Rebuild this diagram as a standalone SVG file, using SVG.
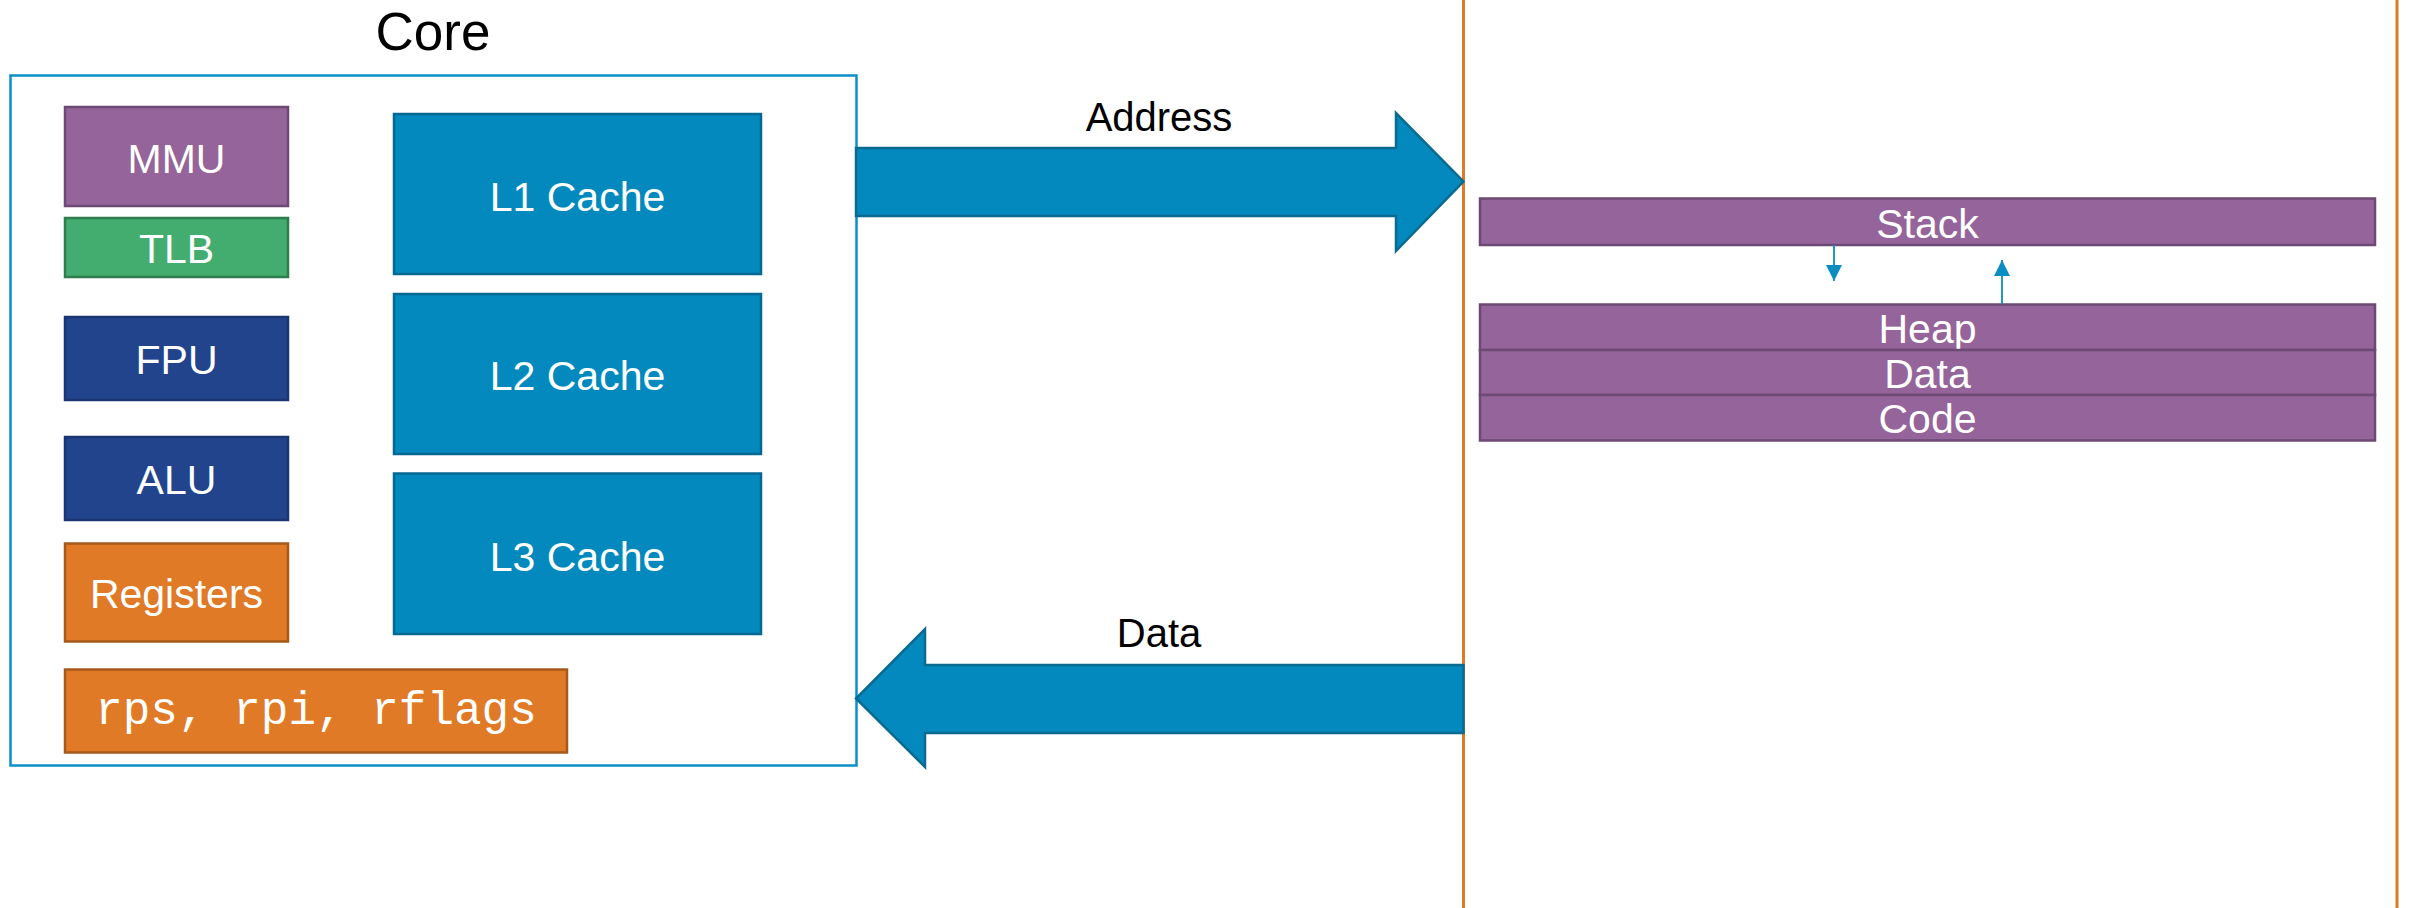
<svg xmlns="http://www.w3.org/2000/svg" width="2409" height="908" viewBox="0 0 2409 908">
<style>
.lbl{font-family:"Liberation Sans",Arial,sans-serif;fill:#ffffff;text-anchor:middle;font-size:41px}
.blk{font-family:"Liberation Sans",Arial,sans-serif;fill:#000000;text-anchor:middle}
.mono{font-family:"Liberation Mono","Courier New",monospace;fill:#ffffff;text-anchor:middle;font-size:46px}
.purple{fill:#95649A;stroke:#6D4A73;stroke-width:2.5}
.green{fill:#43AD6F;stroke:#2F7D4E;stroke-width:2.5}
.navy{fill:#21448D;stroke:#1A3570;stroke-width:2.5}
.cache{fill:#0389BD;stroke:#046892;stroke-width:2.5}
.orange{fill:#E07A26;stroke:#A55A1B;stroke-width:2.5}
.bigarrow{fill:#0389BD;stroke:#0B6A8F;stroke-width:2.5;stroke-linejoin:miter}
.sep{stroke:#E07A26;stroke-width:3;fill:none}
.thin{stroke:#0A8EC2;stroke-width:1.8;fill:none}
</style>
<defs>
<marker id="ah" viewBox="0 0 10 10" refX="10" refY="5" markerWidth="8" markerHeight="8" markerUnits="userSpaceOnUse" orient="auto">
<path d="M0,0 L10,5 L0,10 z" fill="#0A8EC2"/>
</marker>
<marker id="ahs" viewBox="0 0 16 16" refX="16" refY="8" markerWidth="16" markerHeight="16" markerUnits="userSpaceOnUse" orient="auto">
<path d="M0,0 L16,8 L0,16 z" fill="#0A8EC2"/>
</marker>
</defs>
<rect width="2409" height="908" fill="#ffffff"/>

<line class="sep" x1="1463.5" y1="0" x2="1463.5" y2="908"/>
<line class="sep" x1="2397" y1="0" x2="2397" y2="908"/>

<g id="core">
<text class="blk" x="433" y="50" font-size="53">Core</text>
<rect x="10.5" y="75.5" width="846" height="690" fill="#ffffff" stroke="#0B8FC6" stroke-width="2.5"/>
</g>

<g id="mmu"><rect class="purple" x="65" y="107" width="223" height="99"/><text class="lbl" x="176.5" y="173">MMU</text></g>
<g id="tlb"><rect class="green" x="65" y="218" width="223" height="59"/><text class="lbl" x="176.5" y="263">TLB</text></g>
<g id="fpu"><rect class="navy" x="65" y="317" width="223" height="83"/><text class="lbl" x="176.5" y="374">FPU</text></g>
<g id="alu"><rect class="navy" x="65" y="437" width="223" height="83"/><text class="lbl" x="176.5" y="494">ALU</text></g>
<g id="registers"><rect class="orange" x="65" y="543.5" width="223" height="98"/><text class="lbl" x="176.5" y="608">Registers</text></g>
<g id="specregs"><rect class="orange" x="65" y="669.5" width="502" height="83"/><text class="mono" x="316" y="724">rps, rpi, rflags</text></g>

<g id="l1"><rect class="cache" x="394" y="114" width="367" height="160"/><text class="lbl" x="577.5" y="211">L1 Cache</text></g>
<g id="l2"><rect class="cache" x="394" y="294" width="367" height="160"/><text class="lbl" x="577.5" y="390">L2 Cache</text></g>
<g id="l3"><rect class="cache" x="394" y="473.5" width="367" height="160.5"/><text class="lbl" x="577.5" y="571">L3 Cache</text></g>

<g id="stack"><rect class="purple" x="1480" y="198.5" width="895" height="46.5"/><text class="lbl" x="1927.5" y="238">Stack</text></g>
<g id="heap"><rect class="purple" x="1480" y="304.5" width="895" height="45.5"/><text class="lbl" x="1927.5" y="343">Heap</text></g>
<g id="data"><rect class="purple" x="1480" y="350" width="895" height="45"/><text class="lbl" x="1927.5" y="388">Data</text></g>
<g id="code"><rect class="purple" x="1480" y="395" width="895" height="45.5"/><text class="lbl" x="1927.5" y="433">Code</text></g>

<g id="connectors">
<path class="bigarrow" d="M856,148 L1396,148 L1396,113 L1463.5,181.5 L1396,251 L1396,216 L856,216 Z"/>
<text class="blk" x="1159" y="131" font-size="40">Address</text>
<path class="bigarrow" d="M1463.5,665 L925,665 L925,629 L856,698.5 L925,767 L925,733 L1463.5,733 Z"/>
<text class="blk" x="1159" y="647" font-size="40">Data</text>
<line class="thin" x1="1834" y1="245" x2="1834" y2="281" marker-end="url(#ahs)"/>
<line class="thin" x1="2002" y1="304" x2="2002" y2="260" marker-end="url(#ahs)"/>
</g>
</svg>
